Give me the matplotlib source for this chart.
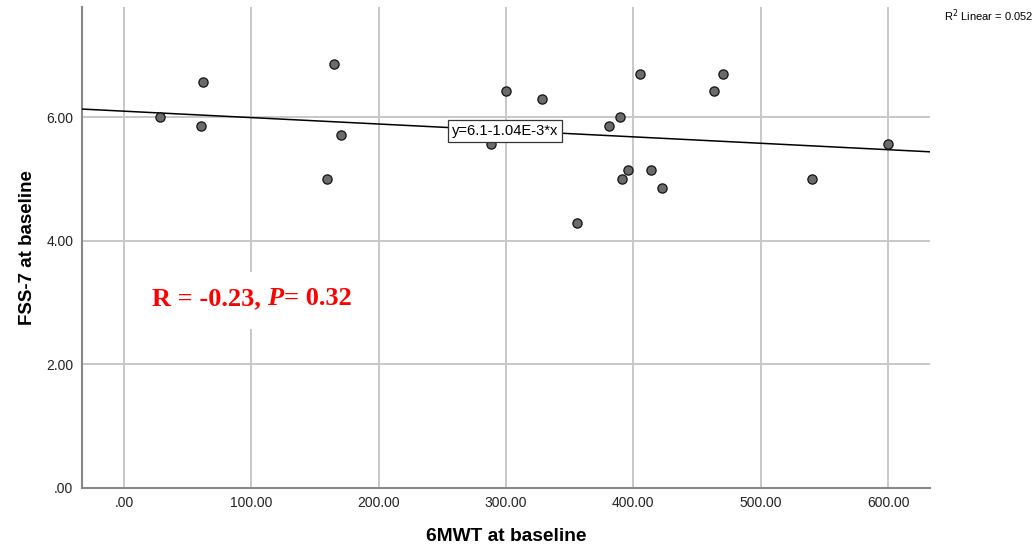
import matplotlib
matplotlib.use("Agg")
import matplotlib.pyplot as plt
from matplotlib.patches import Rectangle
import numpy as np

# ---- data ----
mwt_6 = [28.4, 60.2, 62.0, 159.2, 165.0, 170.2, 287.9, 300.0, 328.5, 355.6,
         380.6, 389.7, 391.2, 395.9, 405.6, 413.8, 422.9, 463.5, 470.3, 540.0, 600.0]
fss_7 = [6.00, 5.86, 6.57, 5.00, 6.86, 5.71, 5.57, 6.43, 6.29, 4.29,
         5.86, 6.00, 5.00, 5.14, 6.71, 5.14, 4.86, 6.43, 6.71, 5.00, 5.57]
fit_intercept = 6.1
fit_slope = -1.04e-3
r2_text = "R$^2$ Linear = 0.052"
fit_label = "y=6.1-1.04E-3*x"
x_ticks = [0, 100, 200, 300, 400, 500, 600]
x_ticklabels = [".00", "100.00", "200.00", "300.00", "400.00", "500.00", "600.00"]
y_ticks = [0, 2, 4, 6]
y_ticklabels = [".00", "2.00", "4.00", "6.00"]

plt.rcParams['font.family'] = ['Liberation Sans', 'DejaVu Sans']

fig = plt.figure(figsize=(10.35, 5.5), dpi=100)
ax = fig.add_axes([0.0789, 0.1133, 0.8197, 0.8731])

xmin, xmax = -33.2, 633.0
ax.set_xlim(xmin, xmax)
ax.set_ylim(0, 7.78)

grid_c = "#c8c8c8"
ax.set_xticks(x_ticks)
ax.set_xticklabels(x_ticklabels)
ax.set_yticks(y_ticks)
ax.set_yticklabels(y_ticklabels)
ax.grid(True, color=grid_c, linewidth=1.4, zorder=0)
ax.set_axisbelow(True)
ax.tick_params(length=0, labelsize=10, colors="#222222")
ax.tick_params(axis="x", pad=6)
ax.tick_params(axis="y", pad=6)

for s in ["top", "right"]:
    ax.spines[s].set_visible(False)
for s in ["left", "bottom"]:
    ax.spines[s].set_color("#888888")
    ax.spines[s].set_linewidth(1.5)

# fit line
xl = np.array([xmin, xmax])
ax.plot(xl, fit_intercept + fit_slope * xl, color="black", linewidth=1.1, zorder=3)

# points
ax.scatter(mwt_6, fss_7, s=44, facecolor="#6b6b6b", edgecolor="#111111",
           linewidth=0.9, zorder=4)

# fit label box
ax.text(299, 5.78, fit_label, fontsize=10.6, ha="center", va="center", zorder=5,
        bbox=dict(boxstyle="square,pad=0.25", facecolor="white", edgecolor="#333333", linewidth=0.9))

# R / P annotation with white backdrop
ax.add_patch(Rectangle((15, 2.57), 175, 0.93, facecolor="white", edgecolor="none", zorder=1))
serif = ['Liberation Serif', 'DejaVu Serif']
t1 = ax.text(22, 3.06, "R = -0.23, ", fontsize=19, fontweight="bold", family=serif,
             color="#ff0000", va="center", ha="left", zorder=5)
t2 = ax.annotate("P", xy=(1, 0), xycoords=t1, fontsize=19, fontweight="bold",
                 style="italic", family=serif, color="#ff0000", va="bottom", ha="left", zorder=5)
t3 = ax.annotate("= 0.32", xy=(1, 0), xycoords=t2, fontsize=19, fontweight="bold",
                 family=serif, color="#ff0000", va="bottom", ha="left", zorder=5)

ax.set_xlabel("6MWT at baseline", fontsize=13.8, fontweight="bold", labelpad=13)
ax.set_ylabel("FSS-7 at baseline", fontsize=13.5, fontweight="bold", labelpad=7)

fig.text(0.9985, 0.962, r2_text, fontsize=8, ha="right", va="baseline")

fig.savefig("out.png", dpi=100, facecolor="white")
